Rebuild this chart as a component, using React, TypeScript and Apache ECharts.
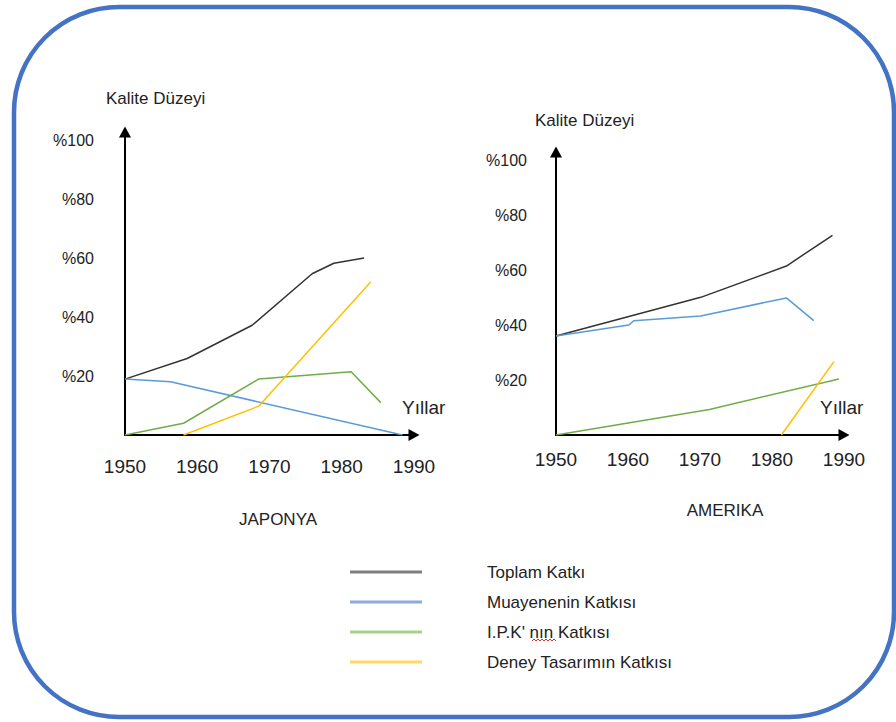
import React, { useEffect, useRef } from "react";
import * as echarts from "echarts";

// ---- Data ----
const yearTicks = [1950, 1960, 1970, 1980, 1990];
const percentTicks = [20, 40, 60, 80, 100];

const seriesNames = [
  "Toplam Katkı",
  "Muayenenin Katkısı",
  "I.P.K' nın Katkısı",
  "Deney Tasarımın Katkısı",
];

// JAPONYA  [year, %]
const japanTotal = [[1950, 19], [1958.6, 26], [1967.6, 37.3], [1975.9, 54.8], [1978.9, 58.4], [1983.1, 60.2]];
const japanInspection = [[1950, 19], [1956.3, 18.1], [1988.4, 0]];
const japanSPC = [[1950, 0], [1958.1, 4], [1968.5, 19], [1981.3, 21.5], [1985.4, 11]];
const japanDOE = [[1958.1, 0], [1968.5, 9.8], [1984.0, 52]];

// AMERIKA  [year, %]
const usaTotal = [[1950, 36], [1970.1, 50.1], [1982.0, 61.5], [1988.4, 72.7]];
const usaInspection = [[1950, 36], [1960.1, 40], [1960.8, 41.6], [1970.1, 43.3], [1982.0, 49.9], [1985.8, 41.6]];
const usaSPC = [[1950, 0], [1971.3, 9.3], [1989.3, 20.4]];
const usaDOE = [[1981.3, 0], [1988.6, 26.7]];

const lineColors = ["#333333", "#5B9BD5", "#70AD47", "#FFC000"];
const legendColors = ["#7F7F7F", "#8FAADC", "#A9D18E", "#FFD966"];

const FONT = "'Liberation Sans', Arial, sans-serif";

export default function App() {
  const ref = useRef<HTMLDivElement>(null);

  useEffect(() => {
    if (!ref.current) return;
    const chart = echarts.init(ref.current, undefined, { renderer: "svg" });

    const axisLine = {
      show: true,
      symbol: ["none", "triangle"],
      symbolSize: [12, 11],
      lineStyle: { color: "#000", width: 2 },
    };

    const xAxisBase = (labelMargin: number) => ({
      type: "value",
      min: 1950,
      max: 1990,
      interval: 10,
      axisLine,
      axisTick: { show: false },
      splitLine: { show: false },
      axisLabel: {
        margin: labelMargin,
        color: "#222",
        fontFamily: FONT,
        fontSize: 19,
        formatter: (v: number) => (yearTicks.includes(v) ? String(v) : ""),
      },
    });

    const yAxisBase = (labelMargin: number) => ({
      type: "value",
      min: 0,
      max: 103,
      interval: 20,
      axisLine,
      axisTick: { show: false },
      splitLine: { show: false },
      axisLabel: {
        margin: labelMargin,
        color: "#222",
        fontFamily: FONT,
        fontSize: 16,
        formatter: (v: number) => (percentTicks.includes(v) ? "%" + v : ""),
      },
    });

    const mk = (name: string, data: number[][], idx: number, color: string) => ({
      type: "line",
      name,
      data,
      xAxisIndex: idx,
      yAxisIndex: idx,
      symbol: "none",
      lineStyle: { color, width: 1.5 },
      itemStyle: { color },
    });

    const japan = [japanTotal, japanInspection, japanSPC, japanDOE];
    const usa = [usaTotal, usaInspection, usaSPC, usaDOE];

    const series: any[] = [];
    seriesNames.forEach((n, i) => series.push(mk(n, japan[i], 0, lineColors[i])));
    seriesNames.forEach((n, i) => series.push(mk(n, usa[i], 1, lineColors[i])));

    const text = (t: string, x: number, y: number, size: number, align = "left") => ({
      type: "text",
      x,
      y,
      style: {
        text: t,
        fill: "#222",
        font: `${size}px ${FONT}`,
        textAlign: align,
        textVerticalAlign: "middle",
      },
    });

    chart.setOption({
      animation: false,
      backgroundColor: "#fff",
      grid: [
        { left: 125, top: 132, width: 289, height: 303 },
        { left: 556, top: 152, width: 288, height: 283 },
      ],
      xAxis: [
        { ...xAxisBase(22), gridIndex: 0 },
        { ...xAxisBase(15), gridIndex: 1 },
      ],
      yAxis: [
        { ...yAxisBase(31), gridIndex: 0 },
        { ...yAxisBase(29), gridIndex: 1 },
      ],
      legend: {
        orient: "vertical",
        left: 345,
        top: 554,
        itemWidth: 72,
        itemHeight: 3,
        itemGap: 4,
        icon: "rect",
        selectedMode: false,
        textStyle: {
          fontFamily: FONT,
          fontSize: 17,
          color: "#222",
          lineHeight: 20,
          padding: [0, 0, 6, 60],
        },
        data: seriesNames.map((n, i) => ({
          name: n,
          itemStyle: { color: legendColors[i] },
        })),
      },
      series,
      graphic: [
        {
          type: "rect",
          shape: { x: 14, y: 7, width: 880, height: 710, r: 105 },
          style: { fill: "none", stroke: "#4472C4", lineWidth: 4.5 },
          silent: true,
        },
        text("Kalite Düzeyi", 106, 98, 17),
        text("Kalite Düzeyi", 535, 120, 17),
        text("Yıllar", 402, 407, 19),
        text("Yıllar", 820, 407, 19),
        text("JAPONYA", 278, 519, 17, "center"),
        text("AMERIKA", 725, 510, 17, "center"),
        {
          type: "polyline",
          shape: {
            points: [[532, 641], [534, 639], [536, 641], [538, 639], [540, 641], [542, 639], [544, 641], [546, 639], [548, 641], [550, 639], [552, 641], [554, 639], [556, 641]],
          },
          style: { stroke: "#E03030", lineWidth: 1, fill: "none" },
          silent: true,
        },
      ],
    });

    return () => chart.dispose();
  }, []);

  return (
    <div
      ref={ref}
      style={{ position: "fixed", left: 0, top: 0, width: 896, height: 722, background: "#fff" }}
    />
  );
}
